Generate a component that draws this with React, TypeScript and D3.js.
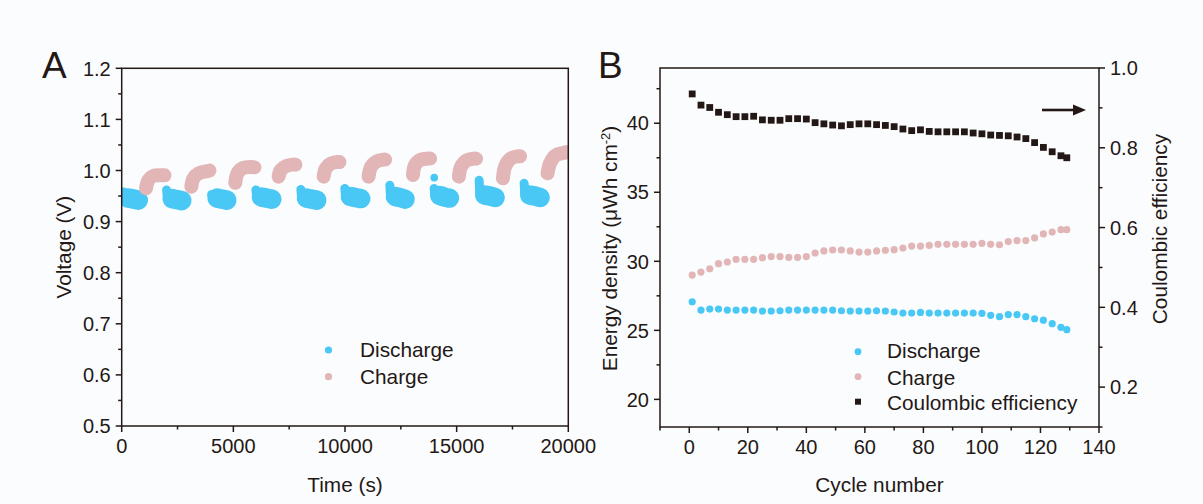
import React from 'react';
import * as d3 from 'd3';

// ---------- Panel A data (time s, voltage V) ----------
const timeTicks = [0, 5000, 10000, 15000, 20000];
const timeMinor = [2500, 7500, 12500, 17500];
const voltTicks = [0.5, 0.6, 0.7, 0.8, 0.9, 1.0, 1.1, 1.2];
const voltMinor = [0.55, 0.65, 0.75, 0.85, 0.95, 1.05, 1.15];

const dischargeSpike: [number, number][][] = [
  [[100, 0.958], [150, 0.950]],
  [[2010, 0.962], [2040, 0.950]],
  [[4024, 0.953], [4050, 0.950]],
  [[6010, 0.962], [6040, 0.952]],
  [[8023, 0.963], [8050, 0.950]],
  [[9993, 0.965], [10020, 0.952]],
  [[12008, 0.971], [12035, 0.952]],
  [[13992, 0.965], [14020, 0.953]],
  [[16007, 0.981], [16035, 0.955]],
  [[18022, 0.975], [18050, 0.955]],
];
const dischargeBody: [number, number][][] = [
  [[300, 0.946], [550, 0.944], [740, 0.942]],
  [[2260, 0.945], [2476, 0.943], [2690, 0.941]],
  [[4274, 0.946], [4490, 0.944], [4707, 0.942]],
  [[6260, 0.948], [6490, 0.946], [6722, 0.944]],
  [[8273, 0.946], [8505, 0.944], [8736, 0.942]],
  [[10243, 0.949], [10474, 0.947], [10706, 0.945]],
  [[12258, 0.949], [12474, 0.947], [12691, 0.944]],
  [[14242, 0.951], [14459, 0.948], [14676, 0.946]],
  [[16257, 0.952], [16488, 0.950], [16720, 0.947]],
  [[18272, 0.952], [18503, 0.950], [18735, 0.947]],
];
const dischargeOutlier: [number, number][] = [[13996, 0.986]];
const chargeCurve: [number, number][][] = [
  [[1090, 0.9652], [1200, 0.9814], [1415, 0.9895], [1770, 0.9905], [1915, 0.9905]],
  [[3118, 0.9683], [3215, 0.9847], [3430, 0.9940], [3790, 0.9985], [3930, 0.9998]],
  [[5088, 0.976], [5185, 0.9945], [5444, 1.0050], [5800, 1.0068], [5945, 1.0062]],
  [[7028, 0.988], [7125, 1.001], [7387, 1.0090], [7663, 1.0115], [7780, 1.0115]],
  [[9043, 0.988], [9140, 1.0043], [9370, 1.0136], [9677, 1.0166], [9750, 1.0166]],
  [[11056, 0.988], [11168, 1.0074], [11416, 1.0180], [11737, 1.0213], [11796, 1.0213]],
  [[13044, 0.9912], [13138, 1.0108], [13400, 1.0213], [13707, 1.0233], [13811, 1.0233]],
  [[15102, 0.988], [15197, 1.0075], [15459, 1.0200], [15767, 1.0232], [15869, 1.0232]],
  [[17073, 0.9847], [17167, 1.0074], [17416, 1.0233], [17736, 1.0278], [17840, 1.0278]],
  [[19071, 0.9945], [19182, 1.0141], [19430, 1.0297], [19770, 1.0342], [19995, 1.0362]],
];

// ---------- Panel B data ----------
const cycleTicks = [0, 20, 40, 60, 80, 100, 120, 140];
const cycleMinor = [-10, 10, 30, 50, 70, 90, 110, 130];
const energyTicks = [20, 25, 30, 35, 40];
const energyMinor = [22.5, 27.5, 32.5, 37.5, 42.5];
const ceTicks = [0.2, 0.4, 0.6, 0.8, 1.0];
const ceMinor = [0.1, 0.3, 0.5, 0.7, 0.9];

const cycles = [1, 4, 7, 10, 13, 16, 19, 22, 25, 28, 31, 34, 37, 40, 43, 46, 49, 52, 55, 58, 61, 64,
  67, 70, 73, 76, 79, 82, 85, 88, 91, 94, 97, 100, 103, 106, 109, 112, 115, 118, 121, 124, 127, 129];
const dischargeEnergy = [27.07, 26.47, 26.54, 26.54, 26.47, 26.47, 26.47, 26.47, 26.40, 26.40, 26.42,
  26.47, 26.47, 26.47, 26.47, 26.47, 26.47, 26.42, 26.40, 26.40, 26.40, 26.42, 26.40, 26.33, 26.25,
  26.25, 26.30, 26.25, 26.25, 26.25, 26.25, 26.25, 26.25, 26.23, 26.09, 25.99, 26.14, 26.14, 25.99,
  25.84, 25.74, 25.48, 25.22, 25.05];
const chargeEnergy = [29.0, 29.22, 29.46, 29.83, 29.95, 30.14, 30.14, 30.14, 30.26, 30.34, 30.34, 30.29,
  30.29, 30.34, 30.6, 30.75, 30.82, 30.82, 30.75, 30.67, 30.67, 30.75, 30.8, 30.84, 30.96, 31.1, 31.1,
  31.16, 31.23, 31.23, 31.23, 31.23, 31.23, 31.3, 31.23, 31.2, 31.43, 31.5, 31.5, 31.69, 31.98, 32.12,
  32.29, 32.29];
const coulombicEff = [0.935, 0.907, 0.901, 0.889, 0.883, 0.878, 0.878, 0.879, 0.870, 0.869, 0.869, 0.873,
  0.873, 0.872, 0.863, 0.860, 0.857, 0.855, 0.858, 0.860, 0.860, 0.858, 0.856, 0.853, 0.847, 0.843,
  0.845, 0.841, 0.840, 0.840, 0.840, 0.840, 0.837, 0.835, 0.832, 0.831, 0.830, 0.827, 0.823, 0.813,
  0.801, 0.790, 0.780, 0.775];

const W = 1203;
const H = 504;
const ink = '#231815';
const blue = '#49c8f6';
const pink = '#e2b5b7';
const font = "'Liberation Sans', Arial, Helvetica, sans-serif";
const fs = 20;
const fsL = 20.8;

export default function App() {
  const xA = d3.scaleLinear().domain([0, 20000]).range([121.7, 568.3]);
  const yA = d3.scaleLinear().domain([0.5, 1.2]).range([426, 68.3]);
  const xB = d3.scaleLinear().domain([-10, 140]).range([660, 1099]);
  const yBL = d3.scaleLinear().domain([18, 44]).range([427, 68]);
  const yBR = d3.scaleLinear().domain([0.1, 1.0]).range([427, 68]);

  const lineA = d3
    .line<[number, number]>()
    .x((d) => xA(d[0]))
    .y((d) => yA(d[1]))
    .curve(d3.curveCatmullRom);

  const [ax0, ax1] = xA.range();
  const [ay0, ay1] = yA.range(); // bottom, top
  const [bx0, bx1] = xB.range();
  const [by0, by1] = yBL.range();

  const txt = { fontFamily: font, fontSize: fs, fill: ink } as const;
  const txtL = { fontFamily: font, fontSize: fsL, fill: ink } as const;

  return (
    <svg width={W} height={H} style={{ position: 'absolute', left: 0, top: 0, background: '#fbfcfe' }}>
      <rect x={0} y={0} width={W} height={H} fill="#fbfcfe" />
      <defs>
        <clipPath id="clipA">
          <rect x={ax0} y={ay1} width={ax1 - ax0} height={ay0 - ay1} />
        </clipPath>
      </defs>

      {/* ---------------- Panel A ---------------- */}
      <g clipPath="url(#clipA)">
        {dischargeBody.map((pts, i) => (
          <path key={'db' + i} d={lineA(pts) || ''} fill="none" stroke={blue} strokeWidth={19.5}
            strokeLinecap="round" strokeLinejoin="round" />
        ))}
        {dischargeSpike.map((pts, i) => (
          <path key={'ds' + i} d={lineA(pts) || ''} fill="none" stroke={blue} strokeWidth={9}
            strokeLinecap="round" strokeLinejoin="round" />
        ))}
        {dischargeOutlier.map((p, i) => (
          <circle key={'do' + i} cx={xA(p[0])} cy={yA(p[1])} r={3.8} fill={blue} />
        ))}
        {chargeCurve.map((pts, i) => (
          <path key={'c' + i} d={lineA(pts) || ''} fill="none" stroke={pink} strokeWidth={14}
            strokeLinecap="round" strokeLinejoin="round" />
        ))}
      </g>
      <rect x={ax0} y={ay1} width={ax1 - ax0} height={ay0 - ay1} fill="none" stroke={ink} strokeWidth={1.5} />
      {voltTicks.map((v) => (
        <g key={'vt' + v}>
          <line x1={ax0 - 6} x2={ax0} y1={yA(v)} y2={yA(v)} stroke={ink} strokeWidth={1.5} />
          <text x={ax0 - 11} y={yA(v)} dy="0.36em" textAnchor="end" {...txt}>{v.toFixed(1)}</text>
        </g>
      ))}
      {voltMinor.map((v) => (
        <line key={'vm' + v} x1={ax0 - 3.5} x2={ax0} y1={yA(v)} y2={yA(v)} stroke={ink} strokeWidth={1.5} />
      ))}
      {timeTicks.map((t) => (
        <g key={'tt' + t}>
          <line x1={xA(t)} x2={xA(t)} y1={ay0} y2={ay0 + 6} stroke={ink} strokeWidth={1.5} />
          <text x={xA(t)} y={ay0 + 27} textAnchor="middle" {...txt}>{t}</text>
        </g>
      ))}
      {timeMinor.map((t) => (
        <line key={'tm' + t} x1={xA(t)} x2={xA(t)} y1={ay0} y2={ay0 + 3.5} stroke={ink} strokeWidth={1.5} />
      ))}
      <text x={(ax0 + ax1) / 2} y={492} textAnchor="middle" {...txtL}>Time (s)</text>
      <text transform={`translate(71,${(ay0 + ay1) / 2}) rotate(-90)`} textAnchor="middle" {...txtL}>Voltage (V)</text>
      <text x={42} y={78} fontFamily={font} fontSize={37} fill={ink}>A</text>

      {/* legend A */}
      <circle cx={328.5} cy={350} r={3.6} fill={blue} />
      <text x={360} y={357} {...txtL}>Discharge</text>
      <circle cx={328.5} cy={376.7} r={3.6} fill={pink} />
      <text x={360} y={383.5} {...txtL}>Charge</text>

      {/* ---------------- Panel B ---------------- */}
      {cycles.map((c, i) => (
        <circle key={'ch' + i} cx={xB(c)} cy={yBL(chargeEnergy[i])} r={3.6} fill={pink} />
      ))}
      {cycles.map((c, i) => (
        <circle key={'dc' + i} cx={xB(c)} cy={yBL(dischargeEnergy[i])} r={3.6} fill={blue} />
      ))}
      {cycles.map((c, i) => (
        <rect key={'ce' + i} x={xB(c) - 3.4} y={yBR(coulombicEff[i]) - 3.4} width={6.8} height={6.8} fill={ink} />
      ))}
      <rect x={bx0} y={by1} width={bx1 - bx0} height={by0 - by1} fill="none" stroke={ink} strokeWidth={1.5} />
      {energyTicks.map((v) => (
        <g key={'et' + v}>
          <line x1={bx0 - 6} x2={bx0} y1={yBL(v)} y2={yBL(v)} stroke={ink} strokeWidth={1.5} />
          <text x={bx0 - 11} y={yBL(v)} dy="0.36em" textAnchor="end" {...txt}>{v}</text>
        </g>
      ))}
      {energyMinor.map((v) => (
        <line key={'em' + v} x1={bx0 - 3.5} x2={bx0} y1={yBL(v)} y2={yBL(v)} stroke={ink} strokeWidth={1.5} />
      ))}
      {ceTicks.map((v) => (
        <g key={'rt' + v}>
          <line x1={bx1} x2={bx1 + 6} y1={yBR(v)} y2={yBR(v)} stroke={ink} strokeWidth={1.5} />
          <text x={bx1 + 11} y={yBR(v)} dy="0.36em" textAnchor="start" {...txt}>{v.toFixed(1)}</text>
        </g>
      ))}
      {ceMinor.map((v) => (
        <line key={'rm' + v} x1={bx1} x2={bx1 + 3.5} y1={yBR(v)} y2={yBR(v)} stroke={ink} strokeWidth={1.5} />
      ))}
      {cycleTicks.map((c) => (
        <g key={'ct' + c}>
          <line x1={xB(c)} x2={xB(c)} y1={by0} y2={by0 + 6} stroke={ink} strokeWidth={1.5} />
          <text x={xB(c)} y={by0 + 27} textAnchor="middle" {...txt}>{c}</text>
        </g>
      ))}
      {cycleMinor.map((c) => (
        <line key={'cm' + c} x1={xB(c)} x2={xB(c)} y1={by0} y2={by0 + 3.5} stroke={ink} strokeWidth={1.5} />
      ))}
      <text x={(bx0 + bx1) / 2} y={492} textAnchor="middle" {...txtL}>Cycle number</text>
      <text transform={`translate(617,${(by0 + by1) / 2 + 1}) rotate(-90)`} textAnchor="middle" {...txtL}>
        Energy density (μWh cm<tspan dy={-7} fontSize={13}>-2</tspan><tspan dy={7}>)</tspan>
      </text>
      <text transform={`translate(1167,229) rotate(-90)`} textAnchor="middle" {...txtL}>Coulombic efficiency</text>
      <text x={598} y={78} fontFamily={font} fontSize={37} fill={ink}>B</text>

      {/* arrow pointing to right axis */}
      <line x1={1042} x2={1074} y1={110} y2={110} stroke={ink} strokeWidth={2.6} />
      <path d="M1073,104.5 L1086,110 L1073,115.5 Z" fill={ink} />

      {/* legend B */}
      <circle cx={858} cy={351.7} r={3.4} fill={blue} />
      <text x={887} y={358.3} {...txtL}>Discharge</text>
      <circle cx={858} cy={376.7} r={3.4} fill={pink} />
      <text x={887} y={384.5} {...txtL}>Charge</text>
      <rect x={855} y={398.7} width={6} height={6} fill={ink} />
      <text x={887} y={409.5} {...txtL}>Coulombic efficiency</text>
    </svg>
  );
}
